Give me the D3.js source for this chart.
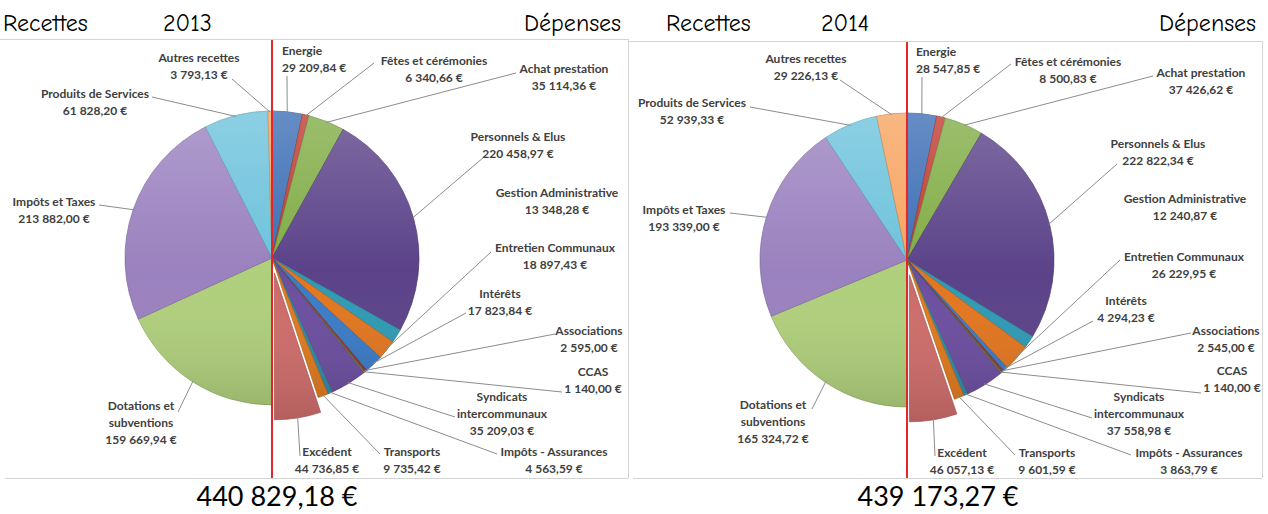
<!DOCTYPE html>
<html>
<head>
<meta charset="utf-8">
<script src="https://cdnjs.cloudflare.com/ajax/libs/d3/7.8.5/d3.min.js"></script>
<style>
body{margin:0;background:#fff;}
svg{display:block;}
</style>
</head>
<body>
<div id="chart"></div>
<script>
// categories (clockwise from 12 o'clock)
var depenses = ["Energie", "Fêtes et cérémonies", "Achat prestation", "Personnels & Elus",
	"Gestion Administrative", "Entretien Communaux", "Intérêts", "Associations", "CCAS",
	"Syndicats intercommunaux", "Impôts - Assurances", "Transports", "Excédent"];
var recettes = ["Dotations et subventions", "Impôts et Taxes", "Produits de Services", "Autres recettes"];

var years = ["2013", "2014"];
var depenses2013 = [29209.84, 6340.66, 35114.36, 220458.97, 13348.28, 18897.43, 17823.84,
	2595.00, 1140.00, 35209.03, 4563.59, 9735.42, 44736.85];
var recettes2013 = [159669.94, 213882.00, 61828.20, 3793.13];
var depenses2014 = [28547.85, 8500.83, 37426.62, 222822.34, 12240.87, 26229.95, 4294.23,
	2545.00, 1140.00, 37558.98, 3863.79, 9601.59, 46057.13];
var recettes2014 = [165324.72, 193339.00, 52939.33, 29226.13];
var totals = [440829.18, 439173.27];

// slice colours, same order as depenses then recettes
var colors = ["#3b6db4", "#c0392f", "#80ac45", "#5b4289", "#2f9ab4", "#e2761f", "#3b7bc7",
	"#8e3a38", "#6d8a3a", "#6c4ea0", "#2e8ca6", "#df7a1f", "#cc6c6a",
	"#b0cf7c", "#9a81bf", "#6cc2dc", "#f7a35f"];

// label layout : [x, y of first line, leader end x, leader end y]  (null = no leader)
var labels2013 = [
	[282, 51, 287, 76], [434, 61, 374, 63], [564, 69, 516, 73], [518, 137, 484, 157],
	[557, 193, null, null], [555, 248, 491, 252], [500, 294, 466, 313], [589, 331, 555, 334],
	[593, 372, 562, 392], [502, 397, 455, 417], [554, 452, 497, 454], [412, 452, 380, 454],
	[327, 452, 300, 456],
	[141, 406, 178, 412], [54, 202, 99, 205], [95, 94, 152, 97], [199, 58, 232, 79]];
var labels2014 = [
	[916, 52, 922, 77], [1068, 62, 1011, 64], [1201, 73, 1153, 76], [1158, 144, 1117, 164],
	[1185, 199, null, null], [1184, 257, 1120, 260], [1126, 301, 1093, 321], [1226, 331, 1191, 333],
	[1232, 371, 1201, 393], [1139, 397, 1092, 418], [1189, 453, 1131, 455], [1047, 453, 1015, 455],
	[962, 453, 935, 456],
	[773, 405, 812, 409], [684, 210, 730, 213], [692, 103, 750, 107], [806, 59, 840, 80]];

var W = 1268, H = 514, R = 147, explode = 15;
var panels = [
	{year: years[0], dep: depenses2013, rec: recettes2013, total: totals[0], lab: labels2013,
		cx: 272, cy: 258, x0: 0, x1: 628, top: 39, hx: [3, 163, 524], tx: 277},
	{year: years[1], dep: depenses2014, rec: recettes2014, total: totals[1], lab: labels2014,
		cx: 907, cy: 260, x0: 628, x1: 1262, top: 41, hx: [666, 821, 1159], tx: 938}
];

var fr = d3.formatLocale({decimal: ",", thousands: "\u00a0", grouping: [3], currency: ["", "\u00a0€"]});
var money = fr.format("$,.2f");

var svg = d3.select("#chart").append("svg").attr("width", W).attr("height", H);

var defs = svg.append("defs");
var grad = defs.append("linearGradient").attr("id", "shade")
	.attr("gradientUnits", "userSpaceOnUse")
	.attr("x1", 0).attr("y1", -R).attr("x2", 0).attr("y2", R);
grad.append("stop").attr("offset", "0").attr("stop-color", "#fff").attr("stop-opacity", 0.22);
grad.append("stop").attr("offset", "0.55").attr("stop-color", "#fff").attr("stop-opacity", 0);
grad.append("stop").attr("offset", "1").attr("stop-color", "#000").attr("stop-opacity", 0.12);

var pie = d3.pie().sort(null).value(function(d){return d.v});
var arc = d3.arc().innerRadius(0).outerRadius(R);
var edge = d3.arc().innerRadius(R - 1).outerRadius(R - 1);
var push = d3.arc().innerRadius(explode).outerRadius(explode);

function lines(name){
	if(name.length > 22){
		var k = name.lastIndexOf(" ");
		return [name.slice(0, k), name.slice(k + 1)];
	}
	return [name];
}

panels.forEach(function(p){
	var data = depenses.map(function(n, i){return {name: n, v: p.dep[i]}})
		.concat(recettes.map(function(n, i){return {name: n, v: p.rec[i]}}));
	data.forEach(function(d, i){d.c = colors[i]; d.lab = p.lab[i]});
	var arcs = pie(data);

	// frame
	var fr = svg.append("g").attr("stroke", "#d4d4d4").attr("stroke-width", 1).attr("fill", "none");
	fr.append("line").attr("x1", p.x0).attr("x2", p.x1).attr("y1", p.top + 0.5).attr("y2", p.top + 0.5);
	fr.append("line").attr("x1", p.x0 + 5).attr("x2", p.x1).attr("y1", 478.5).attr("y2", 478.5);
	fr.append("line").attr("x1", p.x1 + 0.5).attr("x2", p.x1 + 0.5).attr("y1", p.top).attr("y2", 478);

	// headers
	var hd = svg.append("g").attr("font-family", "'Comic Sans MS','Comic Neue','DejaVu Sans',sans-serif")
		.attr("font-size", 24).attr("fill", "#000");
	hd.selectAll("text").data(["Recettes", p.year, "Dépenses"]).enter().append("text")
		.attr("x", function(d, i){return p.hx[i]}).attr("y", 31).text(function(d){return d});

	var g = svg.append("g").attr("transform", "translate(" + p.cx + "," + p.cy + ")");

	var sl = g.selectAll("g.slice").data(arcs).enter().append("g").attr("class", "slice")
		.attr("transform", function(a){
			if(a.data.name !== "Excédent") return null;
			var o = push.centroid(a);
			return "translate(" + o[0] + "," + o[1] + ")";
		});
	sl.append("path").attr("d", arc)
		.attr("fill", function(a){return a.data.c})
		.attr("stroke", function(a){return d3.color(a.data.c).darker(0.6)})
		.attr("stroke-width", 0.7);
	sl.append("path").attr("d", arc).attr("fill", "url(#shade)");

	// leader lines
	arcs.forEach(function(a){
		var L = a.data.lab;
		if(L[2] === null) return;
		var s = edge.centroid(a);
		if(a.data.name === "Excédent"){
			var o = push.centroid(a);
			s = [s[0] + o[0], s[1] + o[1]];
		}
		svg.append("line")
			.attr("x1", p.cx + s[0]).attr("y1", p.cy + s[1])
			.attr("x2", L[2]).attr("y2", L[3])
			.attr("stroke", "#8c8c8c").attr("stroke-width", 1);
	});

	// labels
	var lg = svg.append("g").attr("font-family", "Lato, 'Open Sans', sans-serif")
		.attr("font-size", 12).attr("font-weight", "bold").attr("fill", "#404040");
	arcs.forEach(function(a){
		var L = a.data.lab;
		var t = lg.append("text").attr("text-anchor", a.data.name === "Energie" ? "start" : "middle");
		var ls = lines(a.data.name).concat([money(a.data.v)]);
		ls.forEach(function(s, i){
			t.append("tspan").attr("x", L[0]).attr("y", L[1] + i * 17).attr("dy", "0.35em").text(s);
		});
	});

	// separation recettes / depenses
	svg.append("line").attr("x1", p.cx).attr("x2", p.cx).attr("y1", p.top + 1).attr("y2", 478)
		.attr("stroke", "#e3262b").attr("stroke-width", 2);

	// total
	svg.append("text").attr("x", p.tx).attr("y", 506).attr("text-anchor", "middle")
		.attr("font-family", "Lato, 'Open Sans', sans-serif").attr("font-size", 27)
		.attr("fill", "#000").text(money(p.total));
});
</script>
</body>
</html>
